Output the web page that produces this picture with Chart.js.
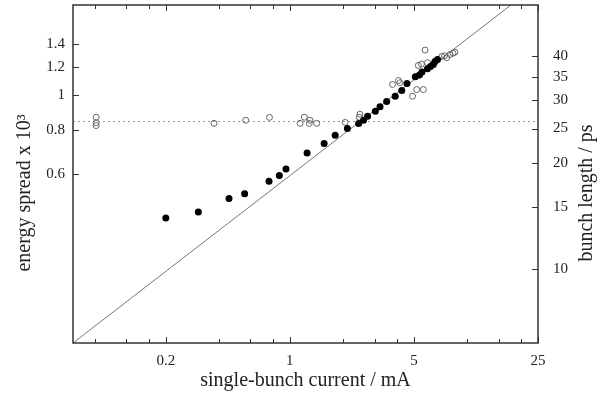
<!DOCTYPE html>
<html>
<head>
<meta charset="utf-8">
<script src="https://cdn.jsdelivr.net/npm/chart.js@4"></script>
<style>
  html, body { margin: 0; padding: 0; background: #fff; }
  canvas { display: block; }
</style>
</head>
<body>
<canvas id="graph" width="603" height="395"></canvas>
<script>
// bunch length measurements (filled dots, right axis)
var filledCurrent = [0.20, 0.305, 0.454, 0.556, 0.763, 0.872, 0.951, 1.25, 1.56, 1.80, 2.11, 2.44, 2.60, 2.74,
                     3.03, 3.22, 3.51, 3.92, 4.27, 4.57, 5.09, 5.37, 5.55, 5.96, 6.20, 6.43, 6.57, 6.79];
var bunchLength = [13.97, 14.53, 15.87, 16.37, 17.73, 18.43, 19.22, 21.33, 22.67, 23.93, 24.99, 25.82, 26.36, 27.08,
                   27.97, 28.79, 29.80, 30.85, 32.02, 33.50, 34.99, 35.41, 36.11, 36.89, 37.43, 37.91, 38.66, 39.16];

// energy spread measurements (open circles, left axis)
var hollowCurrent = [0.081, 0.081, 0.081, 0.374, 0.564, 0.767, 1.141, 1.206, 1.298, 1.286, 1.416, 2.05, 2.48, 2.46,
                     3.79, 4.09, 4.17, 4.91, 5.18, 5.65, 5.78, 5.29, 5.51, 5.96, 7.17, 7.43, 7.65, 7.98, 8.30, 8.51];
var energySpread = [0.868, 0.837, 0.822, 0.834, 0.851, 0.867, 0.834, 0.868, 0.851, 0.834, 0.834, 0.839, 0.885, 0.868,
                    1.074, 1.102, 1.086, 0.995, 1.039, 1.039, 1.343, 1.215, 1.226, 1.237, 1.288, 1.294, 1.278, 1.305, 1.316, 1.325];

// scaling law line and natural energy spread
var lineCurrent = [0.06, 17.6];
var lineSpread = [0.2, 1.8];
var naturalCurrent = [0.06, 25];
var naturalSpread = [0.844, 0.844];

// ticks
var xTickValues = [0.08, 0.12, 0.16, 0.2, 0.4, 0.6, 0.8, 1, 2, 3, 4, 5, 10, 15, 20, 25];
var xTickLabels = [0.2, 1, 5, 25];
var yTickValues = [0.6, 0.8, 1, 1.2, 1.4];
var y2TickValues = [10, 15, 20, 25, 30, 35, 40];

var serif = "'Liberation Serif', 'Times New Roman', serif";

function points(xs, ys) {
    var out = [];
    for (var i = 0; i < xs.length; i++) {
        out.push({x: xs[i], y: ys[i]});
    }
    return out;
}

// no extra room for half labels, the frame is fixed by the widths below
function fixBox(w, h) {
    return function(s) {
        if (w) s.width = w;
        if (h) s.height = h;
        s.paddingTop = 0;
        s.paddingBottom = 0;
        s.paddingLeft = 0;
        s.paddingRight = 0;
    };
}

// gnuplot style frame with inward ticks, and the two rotated axis titles
var framePlugin = {
    id: 'frame',
    afterDatasetsDraw: function(chart) {
        var ctx = chart.ctx;
        var a = chart.chartArea;
        var sx = chart.scales.x, sy = chart.scales.y, sy2 = chart.scales.y2;
        ctx.save();
        ctx.strokeStyle = '#333';
        ctx.lineWidth = 1;
        ctx.beginPath();
        sx.ticks.forEach(function(t) {
            var p = Math.round(sx.getPixelForValue(t.value)) + 0.5;
            var len = xTickLabels.indexOf(t.value) >= 0 ? 6 : 4;
            ctx.moveTo(p, a.bottom); ctx.lineTo(p, a.bottom - len);
            ctx.moveTo(p, a.top); ctx.lineTo(p, a.top + len);
        });
        sy.ticks.forEach(function(t) {
            var p = Math.round(sy.getPixelForValue(t.value)) + 0.5;
            ctx.moveTo(a.left, p); ctx.lineTo(a.left + 6, p);
        });
        sy2.ticks.forEach(function(t) {
            var p = Math.round(sy2.getPixelForValue(t.value)) + 0.5;
            ctx.moveTo(a.right, p); ctx.lineTo(a.right - 6, p);
        });
        ctx.stroke();
        ctx.lineWidth = 1.5;
        ctx.strokeRect(a.left, a.top, a.right - a.left, a.bottom - a.top);

        ctx.fillStyle = '#222';
        ctx.font = '20px ' + serif;
        ctx.textAlign = 'center';
        ctx.textBaseline = 'middle';
        ctx.translate(25, 193);
        ctx.rotate(-Math.PI / 2);
        ctx.fillText('energy spread x 10\u00b3', 0, 0);
        ctx.restore();

        ctx.save();
        ctx.fillStyle = '#222';
        ctx.font = '20px ' + serif;
        ctx.textAlign = 'center';
        ctx.textBaseline = 'middle';
        ctx.translate(587, 193);
        ctx.rotate(-Math.PI / 2);
        ctx.fillText('bunch length / ps', 0, 0);
        ctx.restore();
    }
};

var ctx = document.getElementById("graph").getContext("2d");
var chart = new Chart(ctx, {
    type: 'scatter',
    data: {
        datasets: [
            {
                label: 'bunch length',
                data: points(filledCurrent, bunchLength),
                yAxisID: 'y2',
                pointRadius: 3.5,
                pointBackgroundColor: '#000',
                pointBorderColor: '#000',
                pointBorderWidth: 0
            },
            {
                label: 'energy spread',
                data: points(hollowCurrent, energySpread),
                yAxisID: 'y',
                pointRadius: 3,
                pointBackgroundColor: 'rgba(0,0,0,0)',
                pointBorderColor: '#666',
                pointBorderWidth: 1
            },
            {
                label: 'natural',
                type: 'line',
                data: points(naturalCurrent, naturalSpread),
                yAxisID: 'y',
                borderColor: '#999',
                borderWidth: 1,
                borderDash: [2, 3],
                pointRadius: 0
            },
            {
                label: 'scaling',
                type: 'line',
                data: points(lineCurrent, lineSpread),
                yAxisID: 'y',
                borderColor: '#777',
                borderWidth: 1,
                pointRadius: 0
            }
        ]
    },
    options: {
        responsive: false,
        animation: false,
        devicePixelRatio: 1,
        layout: { padding: { top: 5, left: 0, right: 0, bottom: 0 } },
        plugins: { legend: { display: false }, tooltip: { enabled: false } },
        scales: {
            x: {
                type: 'logarithmic',
                position: 'bottom',
                min: 0.06,
                max: 25,
                grid: { display: false, drawTicks: false },
                border: { display: false },
                afterBuildTicks: function(s) {
                    s.ticks = xTickValues.map(function(v) { return {value: v}; });
                },
                afterFit: fixBox(0, 52),
                ticks: {
                    autoSkip: false,
                    maxRotation: 0,
                    padding: 9,
                    color: '#222',
                    font: { family: serif, size: 15 },
                    callback: function(v) { return xTickLabels.indexOf(v) >= 0 ? String(v) : ''; }
                },
                title: {
                    display: true,
                    text: 'single-bunch current / mA',
                    color: '#222',
                    font: { family: serif, size: 20 },
                    padding: { top: 0, bottom: 2 }
                }
            },
            y: {
                type: 'logarithmic',
                position: 'left',
                min: 0.2,
                max: 1.8,
                grid: { display: false, drawTicks: false },
                border: { display: false },
                afterBuildTicks: function(s) {
                    s.ticks = yTickValues.map(function(v) { return {value: v}; });
                },
                afterFit: fixBox(73, 0),
                ticks: {
                    padding: 8,
                    color: '#222',
                    font: { family: serif, size: 15 },
                    callback: function(v) { return String(v); }
                }
            },
            y2: {
                type: 'logarithmic',
                position: 'right',
                min: 6.2,
                max: 55.8,
                grid: { display: false, drawTicks: false },
                border: { display: false },
                afterBuildTicks: function(s) {
                    s.ticks = y2TickValues.map(function(v) { return {value: v}; });
                },
                afterFit: fixBox(65, 0),
                ticks: {
                    padding: 15,
                    color: '#222',
                    font: { family: serif, size: 15 },
                    callback: function(v) { return String(v); }
                }
            }
        }
    },
    plugins: [framePlugin]
});
</script>
</body>
</html>
